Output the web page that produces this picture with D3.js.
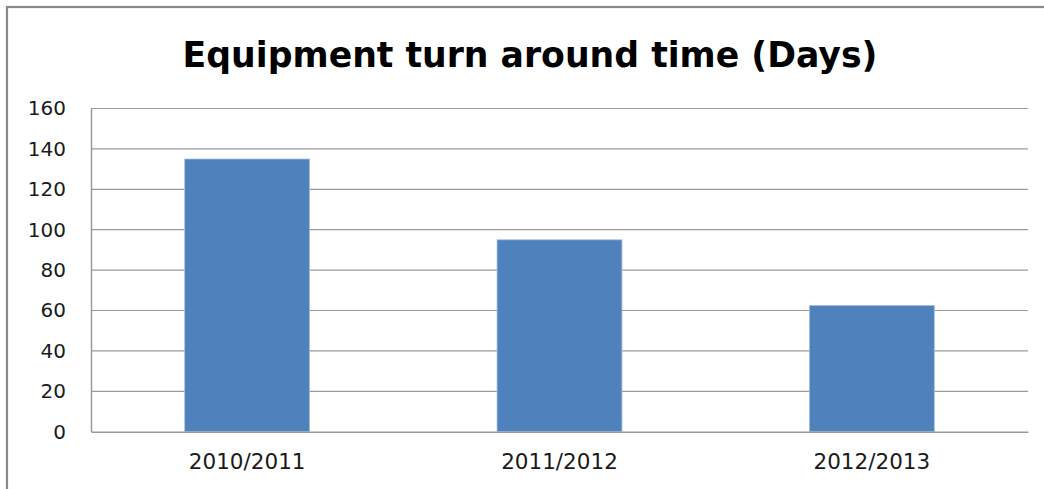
<!DOCTYPE html>
<html>
<head>
<meta charset="utf-8">
<script src="https://cdn.jsdelivr.net/npm/d3@7"></script>
<style>
html,body{margin:0;padding:0;background:#fff;overflow:hidden;}
</style>
</head>
<body>
<svg id="chart" width="1044" height="489"></svg>
<script>
const categories = ["2010/2011", "2011/2012", "2012/2013"];
const values = [135, 95, 62.5];
const yTicks = [0, 20, 40, 60, 80, 100, 120, 140, 160];
const title = "Equipment turn around time (Days)";

const svg = d3.select("#chart");
const W = 1044, H = 489;
const m = {left: 91, right: 16, top: 108.5, bottom: 57.3};

// outer frame (top & left visible)
svg.append("rect").attr("x", 7).attr("y", 7).attr("width", W + 20).attr("height", H + 20)
  .attr("fill", "#fff").attr("stroke", "#888").attr("stroke-width", 2.2);

const x = d3.scaleBand().domain(categories).range([m.left, W - m.right]).paddingInner(0.6).paddingOuter(0.3);
const y = d3.scaleLinear().domain([0, 160]).range([H - m.bottom, m.top]);

// gridlines
svg.append("g").selectAll("line").data(yTicks.filter(d => d > 0)).join("line")
  .attr("x1", m.left).attr("x2", W - m.right)
  .attr("y1", d => y(d)).attr("y2", d => y(d))
  .attr("stroke", "#9a9a9a").attr("stroke-width", 1.2);

// bars
svg.append("g").selectAll("rect").data(values).join("rect")
  .attr("x", (d, i) => x(categories[i]))
  .attr("width", x.bandwidth())
  .attr("y", d => y(d))
  .attr("height", d => y(0) - y(d))
  .attr("fill", "#4f81bd")
  .attr("stroke", "#a9c0de").attr("stroke-width", 0.8);

// y axis
const yAxis = d3.axisLeft(y).tickValues(yTicks).tickSize(0).tickPadding(25);
const gy = svg.append("g").attr("transform", `translate(${m.left},0)`).call(yAxis);
gy.select(".domain").attr("stroke", "#9a9a9a").attr("stroke-width", 1.5);
gy.selectAll("text").attr("font-family", "DejaVu Sans").attr("font-size", 20).attr("fill", "#1a1a1a");

// x axis
const xAxis = d3.axisBottom(x).tickSize(0).tickPadding(22);
const gx = svg.append("g").attr("transform", `translate(0,${y(0)})`).call(xAxis);
gx.select(".domain").attr("stroke", "#9a9a9a").attr("stroke-width", 1.5);
gx.selectAll("text").attr("font-family", "DejaVu Sans").attr("font-size", 21.5).attr("fill", "#1a1a1a");

// title
const t = svg.append("text").attr("x", 530).attr("y", 67).attr("text-anchor", "middle")
  .attr("font-family", "DejaVu Sans").attr("font-weight", "bold").attr("font-size", 36)
  .attr("fill", "#000").text(title);
const len = t.node().getComputedTextLength();
t.attr("font-size", 36 * 695 / len);
</script>
</body>
</html>
